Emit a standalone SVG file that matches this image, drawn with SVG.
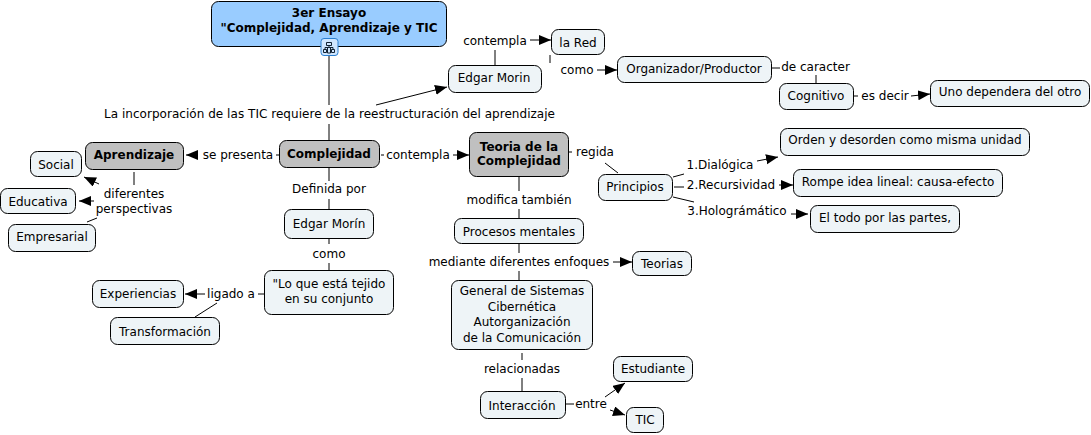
<svg xmlns="http://www.w3.org/2000/svg" width="1091" height="435" viewBox="0 0 1091 435">
<style>
text{font-family:"DejaVu Sans",Verdana,sans-serif;font-size:12px;fill:#000;text-anchor:middle}
.b{font-weight:bold}
rect.n{fill:#eef4f7;stroke:#000;stroke-width:1}
rect.g{fill:#c0c0c0;stroke:#000;stroke-width:1}
rect.t{fill:#99ccff;stroke:#000;stroke-width:1}
#connectors line{stroke:#000;stroke-width:1;fill:none}
line.a{marker-end:url(#ah)}
</style>
<defs><marker id="ah" markerUnits="userSpaceOnUse" markerWidth="13" markerHeight="11" refX="12" refY="5" orient="auto"><path d="M0 0L12 5L0 10Z" fill="#000"/></marker></defs>
<rect width="1091" height="435" fill="#fff"/>
<g id="connectors">
<line x1="329" y1="55" x2="329" y2="105"/><line x1="329" y1="124" x2="329" y2="140"/>
<line class="a" x1="376" y1="105" x2="447" y2="87"/>
<line x1="495" y1="50" x2="495" y2="65"/>
<line class="a" x1="530" y1="40" x2="551" y2="40"/>
<line x1="550" y1="55" x2="550" y2="63"/>
<line class="a" x1="597" y1="70" x2="617" y2="70"/>
<line x1="772" y1="68" x2="780" y2="68"/>
<line x1="816" y1="75" x2="816" y2="83"/>
<line x1="853" y1="96" x2="858" y2="96"/>
<line class="a" x1="911" y1="96" x2="930" y2="94"/>
<line class="a" x1="198" y1="155" x2="186" y2="155"/><line x1="276" y1="155" x2="279" y2="155"/>
<line x1="381" y1="155" x2="384" y2="155"/><line class="a" x1="453" y1="155" x2="469" y2="155"/>
<line x1="134" y1="172" x2="134" y2="185"/>
<line class="a" x1="99" y1="184" x2="84" y2="177"/>
<line class="a" x1="94" y1="201" x2="79" y2="201"/>
<line x1="97" y1="218" x2="87" y2="222"/>
<line x1="329" y1="168" x2="329" y2="181"/><line x1="329" y1="199" x2="329" y2="209"/>
<line x1="329" y1="239" x2="329" y2="244"/><line x1="329" y1="263" x2="329" y2="270"/>
<line x1="264" y1="294" x2="258" y2="294"/><line class="a" x1="205" y1="294" x2="185" y2="294"/>
<line x1="217" y1="303" x2="195" y2="317"/>
<line x1="569" y1="152" x2="572" y2="152"/>
<line x1="605" y1="163" x2="618" y2="173"/>
<line x1="673" y1="177" x2="684" y2="174"/><line class="a" x1="757" y1="161" x2="778" y2="157"/>
<line x1="674" y1="187" x2="684" y2="187"/><line class="a" x1="779" y1="185" x2="793" y2="185"/>
<line x1="673" y1="197" x2="694" y2="202"/><line class="a" x1="791" y1="214" x2="808" y2="214"/>
<line x1="519" y1="177" x2="519" y2="191"/><line x1="519" y1="209" x2="519" y2="219"/>
<line x1="519" y1="244" x2="519" y2="253"/><line x1="519" y1="271" x2="519" y2="280"/>
<line class="a" x1="613" y1="262" x2="632" y2="262"/>
<line x1="522" y1="353" x2="522" y2="360"/><line x1="522" y1="378" x2="522" y2="391"/>
<line x1="566" y1="404" x2="574" y2="404"/>
<line class="a" x1="605" y1="397" x2="625" y2="383"/>
<line class="a" x1="610" y1="410" x2="625" y2="415"/>
</g>
<g id="n-title"><rect class="t" x="211.500" y="1.500" width="235" height="45" rx="7"/><text class="b" x="329" y="17">3er Ensayo</text><text class="b" x="329" y="32">"Complejidad, Aprendizaje y TIC</text></g>
<g id="n-icon"><rect x="321" y="38.500" width="17" height="17" rx="3" fill="#cfe6ff" stroke="#2a7fd0"/><path d="M326.500 42.500h5v3h-5zM329 45.500v2M325 47.500h8M325 47.500v2M333 47.500v2M323.500 49.500h3v3h-3zM331.500 49.500h3v3h-3zM327.500 48v5h3v-5" fill="none" stroke="#123" stroke-width="1"/></g>
<g id="n-linking-incorporacion"><text x="329.500" y="118" textLength="451">La incorporación de las TIC requiere de la reestructuración del aprendizaje</text></g>
<g id="n-morin1"><rect class="n" x="448.500" y="65.500" width="93" height="27" rx="7"/><text x="494" y="82">Edgar Morin</text></g>
<g id="n-contempla1"><text x="495" y="45">contempla</text></g>
<g id="n-red"><rect class="n" x="551.500" y="29.500" width="53" height="25" rx="7"/><text x="578" y="47">la Red</text></g>
<g id="n-como1"><text x="577" y="74">como</text></g>
<g id="n-org"><rect class="n" x="617.500" y="56.500" width="154" height="26" rx="7"/><text x="694" y="73">Organizador/Productor</text></g>
<g id="n-caracter"><text x="815.500" y="71">de caracter</text></g>
<g id="n-cog"><rect class="n" x="779.500" y="83.500" width="74" height="26" rx="7"/><text x="816" y="100">Cognitivo</text></g>
<g id="n-esdecir"><text x="885" y="100">es decir</text></g>
<g id="n-uno"><rect class="n" x="930.500" y="80.500" width="159" height="26" rx="7"/><text x="1010" y="96">Uno dependera del otro</text></g>
<g id="n-complejidad"><rect class="g" x="279.500" y="140.500" width="100" height="27" rx="7"/><text class="b" x="329" y="158">Complejidad</text></g>
<g id="n-sepresenta"><text x="238" y="159">se presenta</text></g>
<g id="n-aprendizaje"><rect class="g" x="85.500" y="142.500" width="98" height="27" rx="7"/><text class="b" x="134" y="159">Aprendizaje</text></g>
<g id="n-social"><rect class="n" x="30.500" y="151.500" width="51" height="25" rx="7"/><text x="56" y="169">Social</text></g>
<g id="n-educativa"><rect class="n" x="0.500" y="188.500" width="75" height="25" rx="7"/><text x="38" y="206">Educativa</text></g>
<g id="n-empresarial"><rect class="n" x="8.500" y="224.500" width="87" height="27" rx="7"/><text x="52" y="241">Empresarial</text></g>
<g id="n-perspectivas"><text x="134" y="198">diferentes</text><text x="134" y="213">perspectivas</text></g>
<g id="n-contempla2"><text x="418" y="159">contempla</text></g>
<g id="n-teoria"><rect class="g" x="469.500" y="132.500" width="99" height="44" rx="7"/><text class="b" x="519" y="151">Teoria de la</text><text class="b" x="519" y="165">Complejidad</text></g>
<g id="n-regida"><text x="595" y="156">regida</text></g>
<g id="n-principios"><rect class="n" x="598.500" y="174.500" width="74" height="26" rx="7"/><text x="635" y="191">Principios</text></g>
<g id="n-dialogica"><text x="720" y="169">1.Dialógica</text></g>
<g id="n-recursividad"><text x="731" y="189">2.Recursividad</text></g>
<g id="n-holografico"><text x="737" y="215">3.Holográmático</text></g>
<g id="n-orden"><rect class="n" x="780.500" y="128.500" width="249" height="27" rx="7"/><text x="905" y="144">Orden y desorden como misma unidad</text></g>
<g id="n-rompe"><rect class="n" x="793.500" y="169.500" width="209" height="27" rx="7"/><text x="898" y="186">Rompe idea lineal: causa-efecto</text></g>
<g id="n-todo"><rect class="n" x="810.500" y="205.500" width="149" height="27" rx="7"/><text x="885" y="222">El todo por las partes,</text></g>
<g id="n-modifica"><text x="519" y="204">modifica también</text></g>
<g id="n-procesos"><rect class="n" x="454.500" y="218.500" width="129" height="25" rx="7"/><text x="519" y="236">Procesos mentales</text></g>
<g id="n-enfoques"><text x="519" y="266">mediante diferentes enfoques</text></g>
<g id="n-teorias"><rect class="n" x="632.500" y="251.500" width="59" height="24" rx="7"/><text x="662" y="268">Teorias</text></g>
<g id="n-general"><rect class="n" x="451.500" y="280.500" width="141" height="69" rx="7"/><text x="522" y="295">General de Sistemas</text><text x="522" y="311">Cibernética</text><text x="522" y="326">Autorganización</text><text x="522" y="342">de la Comunicación</text></g>
<g id="n-relacionadas"><text x="522" y="373">relacionadas</text></g>
<g id="n-interaccion"><rect class="n" x="480.500" y="391.500" width="85" height="27" rx="7"/><text x="522" y="410">Interacción</text></g>
<g id="n-entre"><text x="591" y="408">entre</text></g>
<g id="n-estudiante"><rect class="n" x="613.500" y="356.500" width="79" height="25" rx="7"/><text x="653" y="373">Estudiante</text></g>
<g id="n-tic"><rect class="n" x="626.500" y="407.500" width="37" height="25" rx="7"/><text x="645" y="424">TIC</text></g>
<g id="n-definida"><text x="329" y="193">Definida por</text></g>
<g id="n-morin2"><rect class="n" x="284.500" y="209.500" width="89" height="29" rx="7"/><text x="329" y="228">Edgar Morín</text></g>
<g id="n-como2"><text x="329" y="258">como</text></g>
<g id="n-tejido"><rect class="n" x="264.500" y="270.500" width="129" height="44" rx="7"/><text x="329" y="288">"Lo que está tejido</text><text x="329" y="303">en su conjunto</text></g>
<g id="n-ligado"><text x="231" y="298">ligado a</text></g>
<g id="n-experiencias"><rect class="n" x="92.500" y="280.500" width="91" height="27" rx="7"/><text x="138" y="298">Experiencias</text></g>
<g id="n-transformacion"><rect class="n" x="110.500" y="317.500" width="109" height="27" rx="7"/><text x="165" y="336">Transformación</text></g>
</svg>
